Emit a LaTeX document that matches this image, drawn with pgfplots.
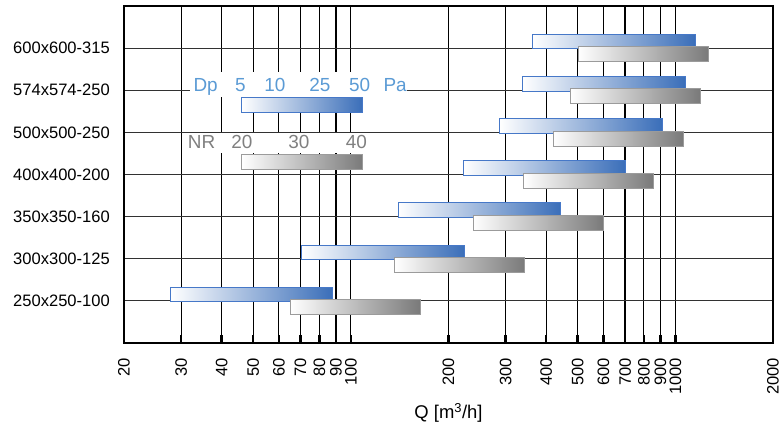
\documentclass[border=0pt]{standalone}
\usepackage{fontspec}
\setmainfont{Liberation Sans}
\usepackage{pgfplots}
\pgfplotsset{compat=1.18}
\definecolor{bluebar}{RGB}{58,110,185}
\definecolor{bluemid}{RGB}{140,188,228}
\definecolor{blueedge}{RGB}{70,120,200}
\definecolor{grayedge}{RGB}{155,155,155}
\definecolor{graybar}{RGB}{122,122,122}
\definecolor{graymid}{RGB}{190,190,190}
\definecolor{legblue}{RGB}{91,155,213}
\definecolor{leggray}{RGB}{128,128,128}
\definecolor{hgrid}{RGB}{50,50,50}
\pgfplotsset{
  bluebarst/.style={draw=blueedge, line width=1bp, left color=white, middle color=bluemid, right color=bluebar, mark=none},
  graybarst/.style={draw=grayedge, line width=1bp, left color=white, middle color=graymid, right color=graybar, mark=none},
}
\begin{document}
\begin{tikzpicture}
\begin{axis}[
  scale only axis, width=649bp, height=337bp,
  xmode=log, xmin=20, xmax=2000, ymin=-1, ymax=7,
  xtick={20,30,40,50,60,70,80,90,100,200,300,400,500,600,700,800,900,1000,2000},
  xticklabels={\mbox{20},\mbox{30},\mbox{40},\mbox{50},\mbox{60},\mbox{70},\mbox{80},\mbox{90},\mbox{100},\mbox{200},\mbox{300},\mbox{400},\mbox{500},\mbox{600},\mbox{700},\mbox{800},\mbox{900},\mbox{1000},\mbox{2000}},
  minor xtick={},
  ytick={0,1,2,3,4,5,6},
  yticklabels={250x250-100,300x300-125,350x350-160,400x400-200,500x500-250,574x574-250,600x600-315},
  xmajorgrids, ymajorgrids,
  x grid style={black, line width=1.2bp},
  y grid style={hgrid, line width=1.2bp},
  tick align=inside, xtick pos=lower, ytick pos=left,
  ytick style={draw=none},
  xtick style={black, line width=2.5bp},
  major tick length=8bp,
  axis line style={black, line width=1.6bp},
  ticklabel style={font=\fontsize{16.6}{18}\selectfont},
  xticklabel style={rotate=90, anchor=east, inner sep=0pt},
  xticklabel shift=15bp,
  yticklabel style={anchor=east, inner sep=0pt},
  yticklabel shift=14bp,
  xlabel={Q [m\textsuperscript{3}/h]},
  xlabel style={font=\fontsize{18.5}{20}\selectfont, at={(axis description cs:0.5,0)}, anchor=center, yshift=-70bp},
]
\coordinate (TL) at (rel axis cs:0,1);
% 250x250-100
\addplot[bluebarst] coordinates {(27.8,-0.02) (88.1,-0.02) (88.1,0.325) (27.8,0.325)} -- cycle;
\addplot[graybarst] coordinates {(65.0,-0.325) (163.4,-0.325) (163.4,0.03) (65.0,0.03)} -- cycle;
% 300x300-125
\addplot[bluebarst] coordinates {(70.7,0.98) (224.8,0.98) (224.8,1.325) (70.7,1.325)} -- cycle;
\addplot[graybarst] coordinates {(136.8,0.675) (344,0.675) (344,1.03) (136.8,1.03)} -- cycle;
% 350x350-160
\addplot[bluebarst] coordinates {(139.8,1.98) (444,1.98) (444,2.325) (139.8,2.325)} -- cycle;
\addplot[graybarst] coordinates {(238,1.675) (600,1.675) (600,2.03) (238,2.03)} -- cycle;
% 400x400-200
\addplot[bluebarst] coordinates {(222,2.98) (703,2.98) (703,3.325) (222,3.325)} -- cycle;
\addplot[graybarst] coordinates {(341,2.675) (855,2.675) (855,3.03) (341,3.03)} -- cycle;
% 500x500-250
\addplot[bluebarst] coordinates {(287,3.98) (910,3.98) (910,4.325) (287,4.325)} -- cycle;
\addplot[graybarst] coordinates {(421,3.675) (1058,3.675) (1058,4.03) (421,4.03)} -- cycle;
% 574x574-250
\addplot[bluebarst] coordinates {(338,4.98) (1071,4.98) (1071,5.325) (338,5.325)} -- cycle;
\addplot[graybarst] coordinates {(475,4.675) (1194,4.675) (1194,5.03) (475,5.03)} -- cycle;
% 600x600-315
\addplot[bluebarst] coordinates {(362,5.98) (1150,5.98) (1150,6.325) (362,6.325)} -- cycle;
\addplot[graybarst] coordinates {(502,5.675) (1264,5.675) (1264,6.03) (502,6.03)} -- cycle;
\end{axis}
\begin{scope}[shift={(TL)}]
\begin{scope}[xshift=-124bp, yshift=6bp, x=1bp, y=-1bp]
  \fill[white] (190,72) rectangle (407,97);
  \fill[white] (185,133) rectangle (369,153);
  \draw[blueedge, line width=1bp, left color=white, middle color=bluemid, right color=bluebar] (241.7,97.7) rectangle (362.7,112.7);
  \draw[grayedge, line width=1bp, left color=white, middle color=graymid, right color=graybar] (241.7,154) rectangle (362.7,169.3);
  \begin{scope}[every node/.style={inner sep=0pt, font=\fontsize{19}{21}\selectfont}]
    \node[legblue, anchor=base west] at (193.3,91.7) {Dp};
    \node[legblue, anchor=base] at (240.5,91.7) {5};
    \node[legblue, anchor=base] at (275,91.7) {10};
    \node[legblue, anchor=base] at (320,91.7) {25};
    \node[legblue, anchor=base] at (359.7,91.7) {50};
    \node[legblue, anchor=base west] at (383.3,91.7) {Pa};
    \node[leggray, anchor=base west] at (187.7,148.3) {NR};
    \node[leggray, anchor=base] at (242,148.3) {20};
    \node[leggray, anchor=base] at (299,148.3) {30};
    \node[leggray, anchor=base] at (356.3,148.3) {40};
  \end{scope}
  \pgfresetboundingbox
  \path[use as bounding box] (0,0) rectangle (782,429);
\end{scope}
\end{scope}
\end{tikzpicture}
\end{document}
